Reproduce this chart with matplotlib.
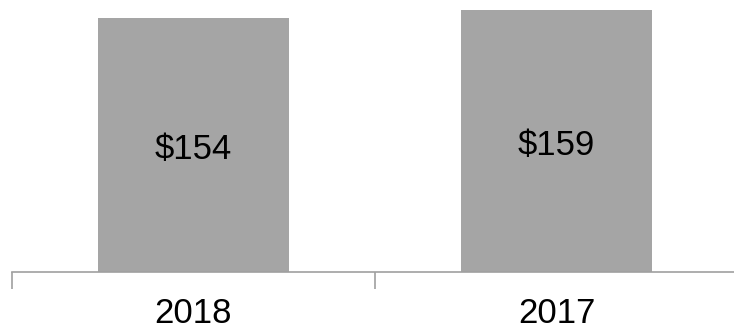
import matplotlib
matplotlib.use("Agg")
import matplotlib.pyplot as plt

years = ["2018", "2017"]
values = [154, 159]
labels = ["$154", "$159"]

plt.rcParams['font.family'] = ['Liberation Sans Narrow', 'Liberation Sans', 'DejaVu Sans']

fig = plt.figure(figsize=(7.34, 3.32), dpi=100)
ax = fig.add_axes([12 / 734, 60 / 332, 726 / 734, 272 / 332])

xs = range(len(years))
ax.bar(xs, values, width=0.526, color='#a5a5a5')
for x, v, lab in zip(xs, values, labels):
    ax.text(x, v / 2 - 2.5, lab, ha='center', va='center', fontsize=25, color='black')

ax.set_xlim(-0.5, 1.5)
ax.set_ylim(0, 165)
ax.set_xticks([-0.5, 0.5, 1.5])
ax.set_xticklabels([])
ax.set_xticks(list(xs), minor=True)
ax.set_xticklabels(years, minor=True, fontsize=25)
ax.tick_params(axis='x', which='major', length=12, width=1.2, color='#a0a0a0')
ax.tick_params(axis='x', which='minor', length=0, pad=18)
ax.set_yticks([])
for s in ['top', 'right', 'left']:
    ax.spines[s].set_visible(False)
ax.spines['bottom'].set_color('#a0a0a0')
ax.spines['bottom'].set_linewidth(1.2)

fig.savefig('out.png', dpi=100)
